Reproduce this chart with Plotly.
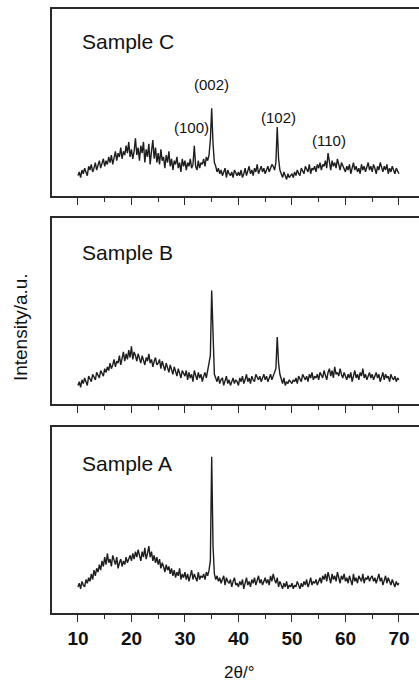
import numpy as np
import plotly.graph_objects as go

# 2theta grid (degrees), 0.25 deg step from 10 to 70
two_theta = [10 + 0.25 * i for i in range(241)]

sample_c = [
    11,13,10,14,12,15,13,11,16,14,17,13,15,18,14,16,19,15,17,20,
    16,19,17,21,18,22,17,20,24,19,23,21,26,20,24,22,27,23,29,21,
    25,20,24,31,22,26,19,27,23,29,18,25,21,28,17,24,30,20,26,18,
    23,17,25,19,21,15,22,18,24,16,20,14,19,17,21,15,18,13,20,16,
    19,14,18,16,20,15,17,27,16,14,19,15,18,17,20,16,21,19,22,30,
    47,28,18,16,13,15,12,14,11,13,15,10,14,12,11,13,10,14,12,11,
    13,11,14,10,12,15,11,13,16,12,14,11,15,13,17,12,14,16,13,15,
    12,14,16,13,15,17,16,14,18,37,20,14,12,10,13,11,9,12,10,11,
    12,10,13,11,14,12,11,15,13,12,16,14,13,17,12,15,14,16,13,17,
    15,18,14,17,16,19,15,23,17,14,19,16,18,15,20,17,14,18,16,15,
    13,16,14,17,12,15,18,14,16,13,15,12,17,14,16,13,15,18,14,16,
    13,17,15,12,16,14,18,15,13,16,14,17,12,15,13,16,14,12,15,13,
    12,
]

sample_b = [
    10,12,9,13,11,14,12,10,15,13,12,16,14,13,17,15,14,18,16,15,
    19,17,20,18,22,19,21,24,20,23,22,26,21,25,28,23,27,24,29,25,
    31,24,28,26,23,27,25,22,26,24,21,25,23,27,22,24,20,23,25,21,
    22,24,19,23,21,18,22,20,17,21,19,16,20,18,15,19,17,14,18,16,
    15,18,13,17,14,16,12,18,15,13,17,14,16,12,15,17,14,18,20,26,
    61,32,16,14,12,15,11,13,14,10,12,15,11,13,10,12,14,11,13,12,
    10,14,12,15,11,13,16,12,14,11,15,13,12,16,14,13,15,12,14,16,
    13,15,12,14,16,13,15,17,19,36,22,16,13,11,14,10,12,11,13,12,
    11,13,12,14,11,15,13,12,16,14,13,15,12,16,14,17,13,15,14,16,
    13,17,15,14,18,16,13,17,19,15,18,14,20,16,17,15,19,16,14,17,
    15,13,16,14,17,12,15,18,14,16,13,17,15,19,14,16,13,15,17,14,
    16,13,15,17,14,16,12,15,17,13,16,14,15,12,16,14,13,15,12,14,
    13,
]

sample_a = [
    14,16,13,17,15,14,18,16,19,17,21,18,23,20,24,22,26,23,28,25,
    30,26,32,27,29,25,31,28,26,30,24,27,29,25,28,26,30,27,29,31,
    28,32,29,33,30,34,31,28,33,30,35,29,32,36,30,33,28,31,27,30,
    26,29,24,27,25,22,26,23,25,21,24,20,23,19,22,20,24,18,21,19,
    22,18,21,17,20,23,18,21,19,17,22,18,20,19,21,18,22,20,23,28,
    84,36,21,18,20,17,19,16,18,20,15,19,17,16,18,14,17,19,15,16,
    14,17,15,18,13,16,19,15,17,14,18,16,19,15,17,20,16,18,15,17,
    19,16,18,15,20,17,21,18,16,19,14,17,15,13,16,14,17,13,15,14,
    16,13,15,14,17,15,13,16,14,17,15,18,14,16,19,15,17,16,18,15,
    17,19,16,20,18,21,17,22,19,16,21,18,20,17,22,19,16,20,18,21,
    17,19,16,20,18,15,21,17,19,16,20,18,17,21,16,19,18,20,17,19,
    20,17,19,16,18,21,17,19,15,18,20,16,19,17,15,18,16,14,17,15,
    16,
]

sample_names = ["Sample A", "Sample B", "Sample C"]
peak_labels = ["(100)", "(002)", "(102)", "(110)"]
peak_label_x = [31.3, 34.9, 47.5, 57.0]
peak_label_y = [36.5, 59.5, 42.0, 30.0]
tick_vals = [10, 20, 30, 40, 50, 60, 70]
tick_text = ["10", "20", "30", "40", "50", "60", "70"]
minor_vals = [15, 25, 35, 45, 55, 65]

series = [sample_a, sample_b, sample_c]
domains = [[0.0, 0.308], [0.346, 0.654], [0.690, 1.0]]
label_y = [80.6, 81.7, 82.4]

line_col = "#2a2a2a"
fig = go.Figure()
for k, ys in enumerate(series):
    sfx = "" if k == 0 else str(k + 1)
    fig.add_trace(go.Scatter(x=two_theta, y=ys, mode="lines",
                             line=dict(color="#1e1e1e", width=1.4),
                             xaxis="x" + sfx, yaxis="y" + sfx, showlegend=False,
                             hoverinfo="skip"))
    xa = dict(domain=[0, 1], range=[5.15, 73.75], anchor="y" + sfx,
              showline=True, linecolor=line_col, linewidth=1.5, mirror=True,
              showgrid=False, zeroline=False,
              ticks="outside", ticklen=7, tickwidth=1.3, tickcolor=line_col,
              tickvals=tick_vals, ticktext=tick_text,
              showticklabels=(k == 0),
              tickfont=dict(family="Liberation Sans, Arial", size=19,
                            color="#111111", weight="bold"),
              minor=dict(tickvals=minor_vals, ticks="outside", ticklen=4,
                         tickwidth=1.2, tickcolor=line_col))
    ya = dict(domain=domains[k], range=[0, 100], anchor="x" + sfx,
              showline=True, linecolor=line_col, linewidth=1.5, mirror=False,
              showgrid=False, zeroline=False, showticklabels=False, ticks="")
    fig.layout["xaxis" + sfx] = xa
    fig.layout["yaxis" + sfx] = ya
    fig.add_annotation(x=10.3, y=label_y[k], xref="x" + sfx, yref="y" + sfx,
                       text=sample_names[k], showarrow=False, xanchor="left",
                       yanchor="middle",
                       font=dict(family="Liberation Sans, Arial", size=21, color="#111111"))

for t, px, py in zip(peak_labels, peak_label_x, peak_label_y):
    fig.add_annotation(x=px, y=py, xref="x3", yref="y3", text=t, showarrow=False,
                       xanchor="center", yanchor="middle",
                       font=dict(family="Liberation Sans, Arial", size=15, color="#111111"))

fig.add_annotation(x=-0.087, y=0.4735, xref="paper", yref="paper",
                   text="Intensity/a.u.", textangle=-90, showarrow=False,
                   xanchor="center", yanchor="middle",
                   font=dict(family="Liberation Sans, Arial", size=19, color="#111111"))
fig.add_annotation(x=0.51, y=-0.099, xref="paper", yref="paper",
                   text="2θ/°", showarrow=False, xanchor="center", yanchor="middle",
                   font=dict(family="Liberation Sans, Arial", size=17, color="#111111"))

fig.update_layout(width=419, height=684,
                  margin=dict(l=52, r=0, t=9, b=71),
                  paper_bgcolor="white", plot_bgcolor="white")

fig.write_html("out.html",
               config={"displayModeBar": False},
               post_script="document.body.style.margin='0';"
                           "document.body.style.overflow='hidden';")
